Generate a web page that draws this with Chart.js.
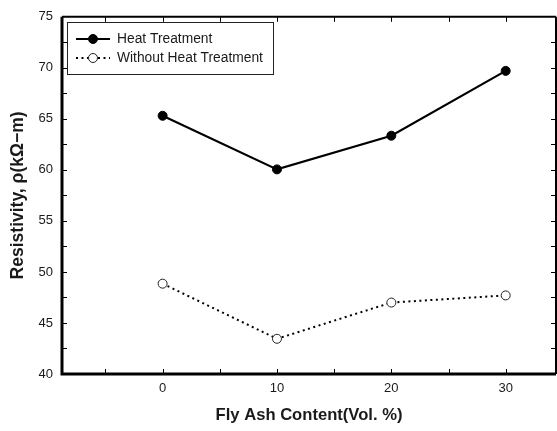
<!DOCTYPE html>
<html>
<head>
<meta charset="utf-8">
<script src="https://cdn.jsdelivr.net/npm/chart.js@4.4.1/dist/chart.umd.min.js"></script>
<style>
html,body{margin:0;padding:0;background:#fff;}
#wrap{width:557px;height:431px;}
</style>
</head>
<body>
<div id="wrap"><canvas id="c" width="557" height="431"></canvas></div>
<script>
const flyAsh = [0, 10, 20, 30];
const heatTreatment = [65.3, 60.05, 63.35, 69.7];
const withoutHeat = [48.85, 43.45, 47.0, 47.7];
const xTicks = [0, 10, 20, 30];
const yTicks = [40, 45, 50, 55, 60, 65, 70, 75];
const seriesLabels = ['Heat Treatment', 'Without Heat Treatment'];

const FONT = '"Liberation Sans", Arial, sans-serif';
const TXT = '#1a1a1a';

const frame = {
  id: 'frame',
  afterDraw(chart) {
    const {ctx, chartArea: a, scales: {x, y}} = chart;
    ctx.save();
    ctx.strokeStyle = '#000';
    ctx.lineWidth = 1;
    for (let v = -5; v <= 30; v += 5) {
      const px = Math.round(x.getPixelForValue(v)) + 0.5;
      const len = 5;
      ctx.beginPath();
      ctx.moveTo(px, a.bottom); ctx.lineTo(px, a.bottom - len);
      ctx.moveTo(px, a.top); ctx.lineTo(px, a.top + len);
      ctx.stroke();
    }
    for (let v = 42.5; v < 75; v += 2.5) {
      const py = Math.round(y.getPixelForValue(v)) + 0.5;
      const len = 5;
      ctx.beginPath();
      ctx.moveTo(a.left, py); ctx.lineTo(a.left + len, py);
      ctx.moveTo(a.right, py); ctx.lineTo(a.right - len, py);
      ctx.stroke();
    }
    ctx.lineWidth = 3;
    ctx.beginPath();
    ctx.moveTo(a.left, a.top); ctx.lineTo(a.left, a.bottom + 1.5);
    ctx.moveTo(a.left - 1.5, a.bottom); ctx.lineTo(a.right, a.bottom);
    ctx.stroke();
    ctx.lineWidth = 2;
    ctx.beginPath();
    ctx.moveTo(a.left, a.top); ctx.lineTo(a.right, a.top);
    ctx.moveTo(a.right, a.top); ctx.lineTo(a.right, a.bottom);
    ctx.stroke();

    const bx = 67.5, by = 22.5, bw = 206, bh = 52;
    ctx.fillStyle = '#fff';
    ctx.fillRect(bx, by, bw, bh);
    ctx.lineWidth = 1;
    ctx.strokeStyle = '#222';
    ctx.strokeRect(bx, by, bw, bh);
    const rows = [39, 58];
    chart.data.datasets.forEach((ds, i) => {
      const yy = rows[i];
      ctx.strokeStyle = ds.borderColor;
      ctx.lineWidth = ds.borderWidth;
      ctx.setLineDash(ds.borderDash || []);
      ctx.beginPath();
      ctx.moveTo(76, yy); ctx.lineTo(110, yy);
      ctx.stroke();
      ctx.setLineDash([]);
      ctx.beginPath();
      ctx.arc(93, yy, ds.pointRadius, 0, Math.PI * 2);
      ctx.fillStyle = ds.pointBackgroundColor;
      ctx.fill();
      ctx.lineWidth = ds.pointBorderWidth;
      ctx.strokeStyle = ds.pointBorderColor;
      ctx.stroke();
      ctx.fillStyle = TXT;
      ctx.font = '13.8px ' + FONT;
      ctx.textBaseline = 'middle';
      ctx.textAlign = 'left';
      ctx.fillText(ds.label, 117, yy);
    });
    ctx.restore();
  }
};

new Chart(document.getElementById('c'), {
  type: 'line',
  data: {
    datasets: [
      {
        label: seriesLabels[0],
        data: flyAsh.map((v, i) => ({x: v, y: heatTreatment[i]})),
        borderColor: '#000',
        borderWidth: 2.2,
        pointRadius: 4.5,
        pointBackgroundColor: '#000',
        pointBorderColor: '#000',
        pointBorderWidth: 1,
        tension: 0
      },
      {
        label: seriesLabels[1],
        data: flyAsh.map((v, i) => ({x: v, y: withoutHeat[i]})),
        borderColor: '#000',
        borderWidth: 2,
        borderDash: [2, 3.5],
        pointRadius: 4.5,
        pointBackgroundColor: '#fff',
        pointBorderColor: '#222',
        pointBorderWidth: 1,
        tension: 0
      }
    ]
  },
  options: {
    responsive: false,
    animation: false,
    layout: {autoPadding: false, padding: {top: 15, right: 1, left: 0, bottom: 0}},
    plugins: {legend: {display: false}, tooltip: {enabled: false}},
    scales: {
      x: {
        type: 'linear',
        min: -8.8,
        max: 34.4,
        afterFit(s) { s.height = 57; s.paddingRight = 0; s.paddingLeft = 0; },
        afterBuildTicks(s) { s.ticks = xTicks.map(v => ({value: v})); },
        grid: {display: false, drawTicks: false},
        border: {display: false},
        ticks: {color: TXT, font: {family: FONT, size: 13}, padding: 7, maxRotation: 0},
        title: {display: true, text: 'Fly Ash Content(Vol. %)', color: TXT,
          font: {family: FONT, size: 16.6, weight: 'bold'}, padding: {top: 0, bottom: 6}}
      },
      y: {
        type: 'linear',
        min: 40,
        max: 75,
        afterFit(s) { s.width = 62; },
        afterBuildTicks(s) { s.ticks = yTicks.map(v => ({value: v})); },
        grid: {display: false, drawTicks: false},
        border: {display: false},
        ticks: {color: TXT, font: {family: FONT, size: 13}, padding: 9},
        title: {display: true, text: 'Resistivity, \u03C1(k\u03A9\u2212m)', color: TXT,
          font: {family: FONT, size: 17.5, weight: 'bold'}, padding: {top: 8, bottom: 0}}
      }
    }
  },
  plugins: [frame]
});
</script>
</body>
</html>
